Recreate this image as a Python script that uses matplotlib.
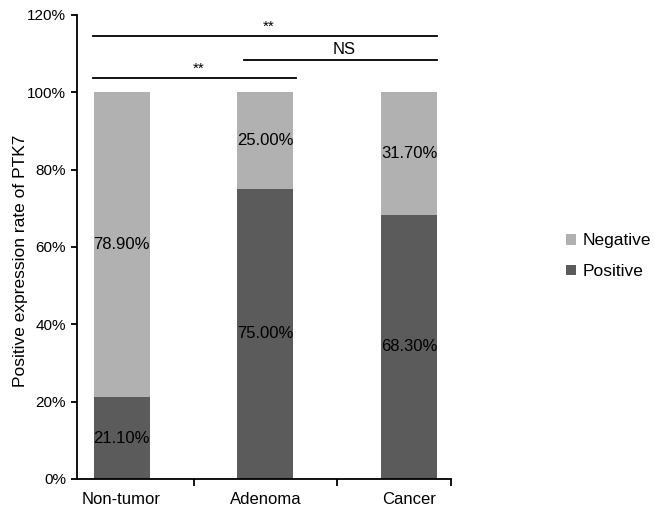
import matplotlib
matplotlib.use("Agg")
from matplotlib import pyplot as plt
from matplotlib.ticker import FuncFormatter

plt.rcParams['font.family'] = ['Liberation Sans', 'DejaVu Sans']

groups = ['Non-tumor', 'Adenoma', 'Cancer']
positive = [21.10, 75.00, 68.30]
negative = [78.90, 25.00, 31.70]

# significance brackets: (x start, x end, height, label)
brackets = [(-0.2, 2.19, 114.5, '**'),
            (0.85, 2.19, 108.3, 'NS'),
            (-0.2, 1.21, 103.6, '**')]

fig = plt.figure(figsize=(6.54, 5.12), dpi=100)
ax = fig.add_axes([77 / 654, 1 - 479 / 512, 374 / 654, 464 / 512])

x = list(range(len(groups)))
w = 0.39
ax.bar(x, positive, width=w, color='#5b5b5b', label='Positive')
ax.bar(x, negative, width=w, bottom=positive, color='#b1b1b1', label='Negative')

for i in x:
    ax.text(i, positive[i] / 2, '%.2f%%' % positive[i], ha='center', va='center', fontsize=12)
    ax.text(i, positive[i] + negative[i] / 2, '%.2f%%' % negative[i], ha='center', va='center', fontsize=12)

for x0, x1, h, lab in brackets:
    ax.plot([x0, x1], [h, h], color='black', lw=1.3, clip_on=False)
    if lab == 'NS':
        ax.text((x0 + x1) / 2 + 0.03, h + 0.8, lab, ha='center', va='bottom', fontsize=12)
    else:
        ax.text((x0 + x1) / 2 + 0.03, h + 0.6, lab, ha='center', va='bottom', fontsize=11)

ax.set_xlim(-0.31, 2.29)
ax.set_ylim(0, 120)
ax.set_yticks(range(0, 121, 20))
ax.yaxis.set_major_formatter(FuncFormatter(lambda v, p: '%d%%' % v))
ax.set_xticks(x)
ax.set_xticklabels(groups)
ax.set_xticks([0.5, 1.5, 2.29], minor=True)
ax.tick_params(axis='x', which='major', length=0, labelsize=12, pad=9)
ax.tick_params(axis='x', which='minor', length=5, width=1.3, direction='out')
ax.tick_params(axis='y', length=4, width=1.3, labelsize=11, pad=4)
for s in ['top', 'right']:
    ax.spines[s].set_visible(False)
for s in ['left', 'bottom']:
    ax.spines[s].set_linewidth(1.3)
ax.set_ylabel('Positive expression rate of PTK7', fontsize=12.5)
ax.yaxis.set_label_coords(-0.132, 0.47)

handles, labels = ax.get_legend_handles_labels()
ax.legend(handles[::-1], labels[::-1], loc='center left', bbox_to_anchor=(1.29, 0.48),
          frameon=False, fontsize=12.5, handlelength=0.55, handleheight=0.55, handletextpad=0.4,
          labelspacing=0.9, borderaxespad=0)

fig.savefig('out.png', dpi=100)
